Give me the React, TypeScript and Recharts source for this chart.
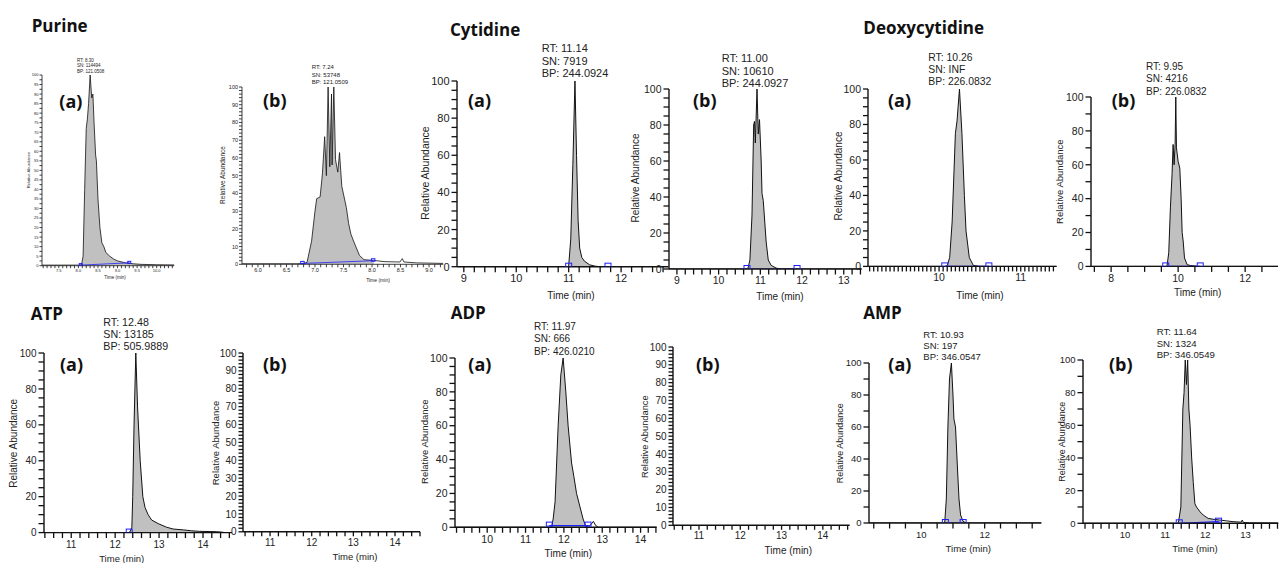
import React from 'react';
import { ComposedChart, Area, Line, XAxis, YAxis } from 'recharts';

type Pt = [number, number];

// ---------- DATA (time in min, relative abundance in %) ----------
const purineA: Pt[] = [[7.07,0.3],[8.0,0.3],[8.08,0.5],[8.12,5],[8.16,40],[8.2,72],[8.23,77],[8.26,85],[8.3,100],[8.34,88],[8.37,90],[8.4,75],[8.44,58],[8.46,55],[8.5,35],[8.55,20],[8.6,12],[8.65,10],[8.7,7],[8.8,5],[8.9,3.5],[9.0,2.5],[9.2,1.5],[9.4,1],[9.6,0.7],[10.0,0.5],[10.45,0.4]];
const purineB: Pt[] = [[5.72,0.3],[6.7,0.3],[6.8,0.5],[6.86,1],[6.94,13],[7.0,30],[7.03,37],[7.09,38],[7.13,51],[7.17,72],[7.2,50],[7.23,100],[7.26,55],[7.29,96],[7.3,56],[7.33,100],[7.36,59],[7.4,52],[7.43,63],[7.47,44],[7.55,32],[7.59,23],[7.63,17],[7.69,12],[7.78,5],[7.86,2.6],[8.03,2.2],[8.21,1.5],[8.49,1.3],[8.53,3.2],[8.56,1.3],[8.78,0.8],[9.25,0.5]];
const cytidineA: Pt[] = [[8.87,0],[10.98,0],[11.0,0.5],[11.04,15],[11.08,55],[11.12,100],[11.15,60],[11.18,25],[11.21,10],[11.25,5],[11.3,3],[11.4,1],[11.5,0.3],[11.6,0],[12.9,0]];
const cytidineB: Pt[] = [[8.81,0],[10.7,0],[10.75,5],[10.8,30],[10.84,80],[10.86,82],[10.88,70],[10.92,100],[10.95,75],[10.98,83],[11.02,60],[11.04,42],[11.07,38],[11.14,15],[11.19,5],[11.26,2],[11.38,0.5],[11.5,0],[13.43,0]];
const deoxyA: Pt[] = [[9.13,0],[10.08,0],[10.1,0.5],[10.13,5],[10.16,25],[10.2,75],[10.22,82],[10.25,100],[10.28,75],[10.31,40],[10.33,20],[10.37,5],[10.42,0.5],[10.5,0],[11.44,0]];
const deoxyB: Pt[] = [[7.4,0],[9.65,0],[9.67,0.5],[9.72,8],[9.77,35],[9.82,55],[9.85,72],[9.88,60],[9.91,72],[9.93,100],[9.95,70],[10.0,62],[10.05,58],[10.09,40],[10.12,20],[10.15,15],[10.19,5],[10.27,1],[10.37,0.5],[10.5,0.2],[10.6,0],[12.98,0]];
const atpA: Pt[] = [[10.38,0],[12.3,0],[12.34,0.5],[12.38,3],[12.4,20],[12.43,60],[12.47,100],[12.51,70],[12.57,40],[12.63,20],[12.68,14],[12.75,10],[12.83,7],[12.98,5],[13.17,3],[13.32,2],[13.55,1.5],[13.74,1],[13.92,0.7],[14.3,0.5],[14.42,0.3],[14.5,0],[14.66,0]];
const atpB: Pt[] = [];
const adpA: Pt[] = [[9.16,0],[11.6,0],[11.68,0.3],[11.72,5],[11.77,15],[11.85,60],[11.92,90],[11.98,100],[12.05,80],[12.11,60],[12.2,38],[12.26,30],[12.33,20],[12.42,12],[12.5,5],[12.57,0.5],[12.68,1],[12.77,3.5],[12.83,1],[12.9,0],[14.42,0]];
const adpB: Pt[] = [];
const ampA: Pt[] = [[8.35,0],[10.7,0],[10.74,0.5],[10.79,15],[10.84,60],[10.89,90],[10.95,100],[11.0,80],[11.03,65],[11.08,60],[11.14,35],[11.19,15],[11.24,5],[11.32,1],[11.42,0],[13.79,0]];
const ampB: Pt[] = [[8.95,0],[11.3,0],[11.33,0.5],[11.39,10],[11.44,70],[11.47,80],[11.5,100],[11.53,85],[11.56,100],[11.59,70],[11.62,60],[11.66,40],[11.7,25],[11.74,12],[11.78,10],[11.87,7],[11.95,5],[12.07,3],[12.19,2.5],[12.36,2],[12.52,1.5],[12.69,1],[12.9,0.7],[12.92,2],[12.95,0.5],[13.1,0.3],[13.82,0.2]];

// integrated (grey) ranges
const fillRanges: ([number, number] | null)[] = [[8.0,10.45],[6.7,8.03],[10.98,11.6],[10.7,11.5],[10.08,10.5],[9.65,10.6],[12.3,14.66],null,[11.6,12.57],null,[10.7,11.42],[11.3,12.45]];

// integration baselines: [time, level, marker(1 = square)]
const baselines: (number[][] | null)[] = [
  [[8.06,0.3,1],[9.3,1.5,1]],
  [[6.78,0.5,1],[8.02,2,1]],
  [[11.0,0,1],[11.75,0,1]],
  [[10.68,0,1],[11.88,0,1]],
  [[10.07,0,1],[10.61,0,1]],
  [[9.63,0,1],[10.66,0,1]],
  [[12.32,0,1],[14.66,0,0]],
  null,
  [[11.62,1,1],[12.63,1,1]],
  null,
  [[10.76,0,1],[11.32,0,1]],
  [[11.35,0,1],[12.33,1,1]],
];

const traces: Pt[][] = [purineA, purineB, cytidineA, cytidineB, deoxyA, deoxyB, atpA, atpB, adpA, adpB, ampA, ampB];

// axes
const xDomains: [number, number][] = [[7.07,10.45],[5.72,9.25],[8.87,12.9],[8.81,13.43],[9.13,11.44],[7.4,12.98],[10.38,14.66],[10.35,14.6],[9.16,14.42],[10.37,14.65],[8.35,13.79],[8.95,13.82]];
const xMajorTicks: number[][] = [[7.5,8.0,8.5,9.0,9.5,10.0],[6.0,6.5,7.0,7.5,8.0,8.5,9.0],[9,10,11,12],[9,10,11,12,13],[10,11],[8,10,12],[11,12,13,14],[11,12,13,14],[10,11,12,13,14],[11,12,13,14],[10,12],[10,11,12,13]];
const xMinorStep = [0.1,0.1,0.2,0.2,0.05,0.5,0.2,0.2,0.2,0.2,0.5,0.2];
const xDecimals = [1,1,0,0,0,0,0,0,0,0,0,0];
const yMajorTicks: number[][] = [
  [0,5,10,15,20,25,30,35,40,45,50,55,60,65,70,75,80,85,90,95,100],
  [0,10,20,30,40,50,60,70,80,90,100],
  [0,20,40,60,80,100],[0,20,40,60,80,100],[0,20,40,60,80,100],[0,20,40,60,80,100],
  [0,20,40,60,80,100],
  [0,10,20,30,40,50,60,70,80,90,100],
  [0,20,40,60,80,100],
  [0,10,20,30,40,50,60,70,80,90,100],
  [0,20,40,60,80,100],[0,20,40,60,80,100],
];
const yMinorStep = [2.5,2,5,5,5,10,5,2,5,2,10,10];

// texts
const titles = ['Purine','Cytidine','Deoxycytidine','ATP','ADP','AMP'];
const panelLetters = ['(a)','(b)','(a)','(b)','(a)','(b)','(a)','(b)','(a)','(b)','(a)','(b)'];
const peakInfo: (string[] | null)[] = [
  ['RT: 8.30','SN: 114494','BP: 121.0508'],
  ['RT: 7.24','SN: 53748','BP: 121.0509'],
  ['RT: 11.14','SN: 7919','BP: 244.0924'],
  ['RT: 11.00','SN: 10610','BP: 244.0927'],
  ['RT: 10.26','SN: INF','BP: 226.0832'],
  ['RT: 9.95','SN: 4216','BP: 226.0832'],
  ['RT: 12.48','SN: 13185','BP: 505.9889'],
  null,
  ['RT: 11.97','SN: 666','BP: 426.0210'],
  null,
  ['RT: 10.93','SN: 197','BP: 346.0547'],
  ['RT: 11.64','SN: 1324','BP: 346.0549'],
];
const yAxisTitle = 'Relative Abundance';
const xAxisTitle = 'Time (min)';

// ---------- LAYOUT ----------
const titlePos = [[31.7,25],[450,29.3],[863.3,27.3],[30.7,313.3],[450.7,312.7],[863.3,312.7]];
type Lay = {
  box: [number, number, number, number];
  tf: number; tl: number;
  letter: [number, number];
  ann: [number, number, number, number] | null;
  yl: [number, number, number];
  xl: [number, number, number];
  sq: [number, number];
};
const layout: Lay[] = [
  { box: [41.7,174,75,265.7], tf: 4, tl: 2.5, letter: [59.3,100.8], ann: [77,60,5.5,4.5], yl: [28.3,170,4.1], xl: [115,277,4.5], sq: [3,2] },
  { box: [241.7,443,86.7,264], tf: 5.5, tl: 3, letter: [263,100], ann: [311.7,66.7,7.8,6], yl: [222.7,175,6.5], xl: [378,280,5], sq: [3.5,2.5] },
  { box: [456.7,668,81,266.7], tf: 11, tl: 5.5, letter: [468,100], ann: [541.7,48.3,12.2,11], yl: [425,173,10.5], xl: [571,295,10], sq: [6,4] },
  { box: [669.3,862,89,269], tf: 10.5, tl: 5.5, letter: [693,100], ann: [721.7,58.3,12.3,11], yl: [635,178,10], xl: [780,296.5,10], sq: [6,4] },
  { box: [868.3,1057,89.3,266.7], tf: 10.5, tl: 5, letter: [888,100], ann: [928.3,57.3,12.2,10.4], yl: [838,176,10], xl: [980,295,10], sq: [6,4] },
  { box: [1091,1278,97.3,266.7], tf: 10.5, tl: 5.5, letter: [1111.7,100], ann: [1146,66.7,12.2,10], yl: [1060,181.7,9.5], xl: [1197.7,292.7,10], sq: [6,4] },
  { box: [44.3,232.3,352.7,532.3], tf: 10, tl: 5.5, letter: [60,364], ann: [103.3,321.7,12.2,10.7], yl: [13.3,443.3,10], xl: [121.7,558,9.5], sq: [6,4] },
  { box: [243,420,352.7,531.5], tf: 10, tl: 4.5, letter: [263,364], ann: null, yl: [215,443,9.5], xl: [355,556.7,9.5], sq: [6,4] },
  { box: [455,656.7,357.7,527], tf: 10.5, tl: 5.5, letter: [468.3,364], ann: [534,326.7,12.2,10], yl: [425,441.7,9.5], xl: [568.3,553.3,10], sq: [6,4] },
  { box: [673.3,850,346.7,525], tf: 10, tl: 4.5, letter: [696,364], ann: null, yl: [645,436.7,9.3], xl: [788.3,550.7,10], sq: [6,4] },
  { box: [869.3,1041.7,363.3,523.3], tf: 9.5, tl: 5.5, letter: [888.3,364], ann: [923.3,334,11.3,9.5], yl: [840,443.3,9], xl: [968.3,548.3,9.6], sq: [6,4] },
  { box: [1082.7,1278,360,523.3], tf: 9.5, tl: 5.5, letter: [1109,364], ann: [1156.7,331.7,11.3,9.6], yl: [1061.7,441.7,9], xl: [1195,548.3,9.6], sq: [6,4] },
];

const SANS = '"Liberation Sans", Arial, sans-serif';
const BOLD = '"Open Sans", "Liberation Sans", sans-serif';
const AXIS = '#111';
const BLUE = '#1f1fff';

function stepTicks(lo: number, hi: number, step: number): number[] {
  const out: number[] = [];
  const start = Math.ceil((lo - 1e-9) / step);
  for (let k = start; k * step <= hi + 1e-9; k++) out.push(Math.round(k * step * 1000) / 1000);
  return out;
}
const isIn = (v: number, arr: number[]) => arr.some((m) => Math.abs(m - v) < 1e-6);

function Panel({ i }: { i: number }) {
  const lay = layout[i];
  const [L, R, T, B] = lay.box;
  const yw = 40, xh = 30, mt = 10, mr = 10;
  const width = R - L + yw + mr;
  const height = B - T + mt + xh;
  const fr = fillRanges[i];
  const rows = traces[i].map(([t, v]) => ({
    t, v, f: fr && t >= fr[0] - 1e-9 && t <= fr[1] + 1e-9 ? v : null,
  }));
  const dom = xDomains[i];
  const xT = stepTicks(dom[0], dom[1], xMinorStep[i]);
  const yT = stepTicks(0, 100, yMinorStep[i]);
  const xM = xMajorTicks[i];
  const yM = yMajorTicks[i];
  const base = baselines[i];
  const baseRows = base ? base.map(([t, b, m]) => ({ t, b, m })) : null;
  const [sw, sh] = lay.sq;
  const tl = lay.tl;
  const small = lay.tf < 8;
  const tm = small ? 1 : 2;
  const lw = small ? 0.8 : 1.3;

  const XTick = (p: any) => {
    const v = p.payload.value;
    const major = isIn(v, xM);
    const y0 = p.y - tm - tl;
    return (
      <g>
        <line x1={p.x} x2={p.x} y1={y0} y2={y0 + tl} stroke={AXIS} strokeWidth={lw} />
        {major && (
          <text x={p.x} y={p.y} dy="0.75em" textAnchor="middle" fontSize={lay.tf} fontFamily={SANS} fill="#222">
            {v.toFixed(xDecimals[i])}
          </text>
        )}
      </g>
    );
  };
  const YTick = (p: any) => {
    const v = p.payload.value;
    const major = isIn(v, yM);
    const x0 = p.x + tm + tl;
    return (
      <g>
        <line x1={x0 - tl} x2={x0} y1={p.y} y2={p.y} stroke={AXIS} strokeWidth={lw} />
        {major && (
          <text x={p.x} y={p.y} dy="0.36em" textAnchor="end" fontSize={lay.tf} fontFamily={SANS} fill="#222">
            {String(v)}
          </text>
        )}
      </g>
    );
  };

  return (
    <div style={{ position: 'absolute', left: L - yw, top: T - mt }}>
      <ComposedChart width={width} height={height} data={rows} margin={{ top: mt, right: mr, bottom: 0, left: 0 }}>
        <XAxis
          type="number" dataKey="t" domain={dom} allowDataOverflow ticks={xT} interval={0}
          tick={XTick} tickLine={false} tickSize={tl} tickMargin={tm} stroke={AXIS} strokeWidth={small ? 0.8 : 1.4} height={xh}
        />
        <YAxis
          type="number" domain={[0, 100]} allowDataOverflow ticks={yT} interval={0}
          tick={YTick} tickLine={false} tickSize={tl} tickMargin={tm} stroke={AXIS} strokeWidth={small ? 0.8 : 1.4} width={yw}
        />
        <Area type="linear" dataKey="f" fill="#c0c0c0" fillOpacity={1} stroke="none" isAnimationActive={false} connectNulls={false} />
        <Line type="linear" dataKey="v" stroke="#111" strokeWidth={small ? 0.8 : 1} dot={false} isAnimationActive={false} />
        {baseRows && (
          <Line
            data={baseRows} type="linear" dataKey="b" stroke={BLUE} strokeWidth={small ? 0.8 : 1.2}
            isAnimationActive={false}
            dot={(p: any) => (
              p.payload && p.payload.m ? (
                <rect key={'sq' + p.index} x={p.cx - sw / 2} y={p.cy - sh + 0.5} width={sw} height={sh} fill="none" stroke={BLUE} strokeWidth={1} />
              ) : (
                <g key={'sq' + p.index} />
              )
            )}
          />
        )}
      </ComposedChart>
    </div>
  );
}

export default function App() {
  return (
    <div style={{ position: 'absolute', left: 0, top: 0, width: 1279, height: 563, overflow: 'hidden', background: '#fff', fontFamily: SANS }}>
      {layout.map((_, i) => (
        <Panel key={i} i={i} />
      ))}
      <svg width={1279} height={563} style={{ position: 'absolute', left: 0, top: 0, pointerEvents: 'none' }}>
        {titles.map((t, k) => (
          <text key={'t' + k} x={titlePos[k][0]} y={titlePos[k][1]} dominantBaseline="central" fontFamily={BOLD} fontWeight={700} fontSize={17} fill="#111">{t}</text>
        ))}
        {layout.map((lay, i) => (
          <g key={'p' + i}>
            <text x={lay.letter[0]} y={lay.letter[1]} dominantBaseline="central" fontFamily={BOLD} fontWeight={700} fontSize={18} fill="#111">{panelLetters[i]}</text>
            {lay.ann && peakInfo[i] && peakInfo[i]!.map((s, j) => (
              <text key={j} x={lay.ann![0]} y={lay.ann![1] + j * lay.ann![2]} dominantBaseline="central" fontFamily={SANS} fontSize={lay.ann![3]} fill="#222">{s}</text>
            ))}
            <text x={lay.yl[0]} y={lay.yl[1]} transform={`rotate(-90 ${lay.yl[0]} ${lay.yl[1]})`} textAnchor="middle" dominantBaseline="central" fontFamily={SANS} fontSize={lay.yl[2]} fill="#222">{yAxisTitle}</text>
            <text x={lay.xl[0]} y={lay.xl[1]} textAnchor="middle" dominantBaseline="central" fontFamily={SANS} fontSize={lay.xl[2]} fill="#222">{xAxisTitle}</text>
          </g>
        ))}
      </svg>
    </div>
  );
}
